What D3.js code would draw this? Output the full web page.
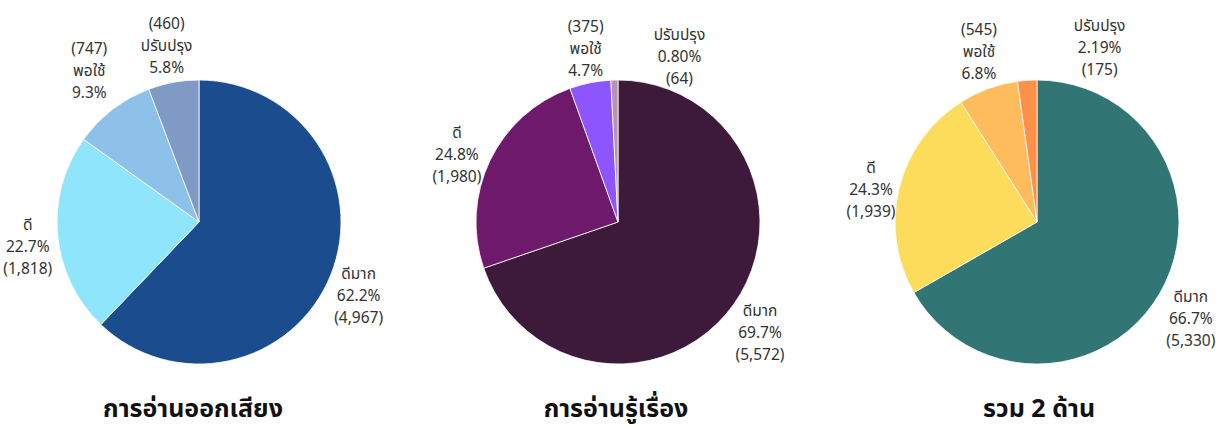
<!DOCTYPE html>
<html>
<head>
<meta charset="utf-8">
<script src="https://cdn.jsdelivr.net/npm/d3@7"></script>
<style>
  body { margin: 0; background: #fff; }
  svg { display: block; }
  .lbl { font-family: "Noto Sans Thai", "Noto Sans", "Open Sans", sans-serif; font-size: 15.5px; fill: #333; }
  .title { font-family: "Noto Sans Thai", "Noto Sans", sans-serif; font-size: 25px; font-weight: bold; fill: #111; }
</style>
</head>
<body>
<script>
// data
var categories = ["ดีมาก", "ดี", "พอใช้", "ปรับปรุง"];
var titles = ["การอ่านออกเสียง", "การอ่านรู้เรื่อง", "รวม 2 ด้าน"];
var countsRead = [4967, 1818, 747, 460];
var countsUnderstand = [5572, 1980, 375, 64];
var countsTotal = [5330, 1939, 545, 175];
var pctRead = ["62.2%", "22.7%", "9.3%", "5.8%"];
var pctUnderstand = ["69.7%", "24.8%", "4.7%", "0.80%"];
var pctTotal = ["66.7%", "24.3%", "6.8%", "2.19%"];

var colors = [
  ["#1b4d8e", "#8fe5fc", "#8ec1ea", "#7f9ac5"],
  ["#3d1a3a", "#6e196b", "#8c55fd", "#b792b4"],
  ["#317574", "#fedc5b", "#febc5c", "#fe9147"]
];

var W = 1222, H = 428, R = 142, cy = 222;
var centers = [199, 618, 1037];

// label layout: offset from arc point and line order (c = count first)
var labelLayout = [
  [{r: 172, dx: 0, dy: 5, c: false}, {r: 172, dx: 0, dy: 4, c: false}, {r: 180, dx: 0, dy: -14, c: true}, {r: 180, dx: 0, dy: -4, c: true}],
  [{r: 172, dx: 2, dy: 6, c: false}, {r: 172, dx: -6, dy: 2, c: false}, {r: 180, dx: 3, dy: -2, c: true}, {r: 180, dx: 66, dy: 10, c: false}],
  [{r: 172, dx: 5, dy: 5, c: false}, {r: 172, dx: 1, dy: 4, c: false}, {r: 180, dx: 4, dy: -6, c: true}, {r: 180, dx: 75, dy: 0, c: false}]
];

var fmt = d3.format(",");

var svg = d3.select("body").append("svg")
  .attr("width", W)
  .attr("height", H);

var pie = d3.pie().sort(null).value(function(d) { return d.value; });
var arc = d3.arc().innerRadius(0).outerRadius(R);

var sets = [
  {counts: countsRead, pcts: pctRead},
  {counts: countsUnderstand, pcts: pctUnderstand},
  {counts: countsTotal, pcts: pctTotal}
];

sets.forEach(function(s, i) {
  var data = categories.map(function(c, j) {
    return {cat: c, value: s.counts[j], pct: s.pcts[j]};
  });
  var arcs = pie(data);

  var g = svg.append("g")
    .attr("transform", "translate(" + centers[i] + "," + cy + ")");

  g.selectAll("path")
    .data(arcs)
    .enter().append("path")
    .attr("d", arc)
    .attr("fill", function(d, j) { return colors[i][j]; })
    .attr("stroke", "#fff")
    .attr("stroke-width", 0.8);

  // labels
  arcs.forEach(function(a, j) {
    var lay = labelLayout[i][j];
    var mid = (a.startAngle + a.endAngle) / 2;
    var x = Math.sin(mid) * lay.r + lay.dx;
    var y = -Math.cos(mid) * lay.r + lay.dy;
    var lines = lay.c
      ? ["(" + fmt(a.data.value) + ")", a.data.cat, a.data.pct]
      : [a.data.cat, a.data.pct, "(" + fmt(a.data.value) + ")"];
    var t = g.append("text")
      .attr("class", "lbl")
      .attr("text-anchor", "middle")
      .attr("x", x)
      .attr("y", y - 17);
    lines.forEach(function(l, k) {
      t.append("tspan")
        .attr("x", x)
        .attr("dy", k == 0 ? "0.35em" : 22)
        .text(l);
    });
  });

  svg.append("text")
    .attr("class", "title")
    .attr("text-anchor", "middle")
    .attr("x", centers[i] - 6 + i * 4)
    .attr("y", 417)
    .text(titles[i]);
});
</script>
</body>
</html>
